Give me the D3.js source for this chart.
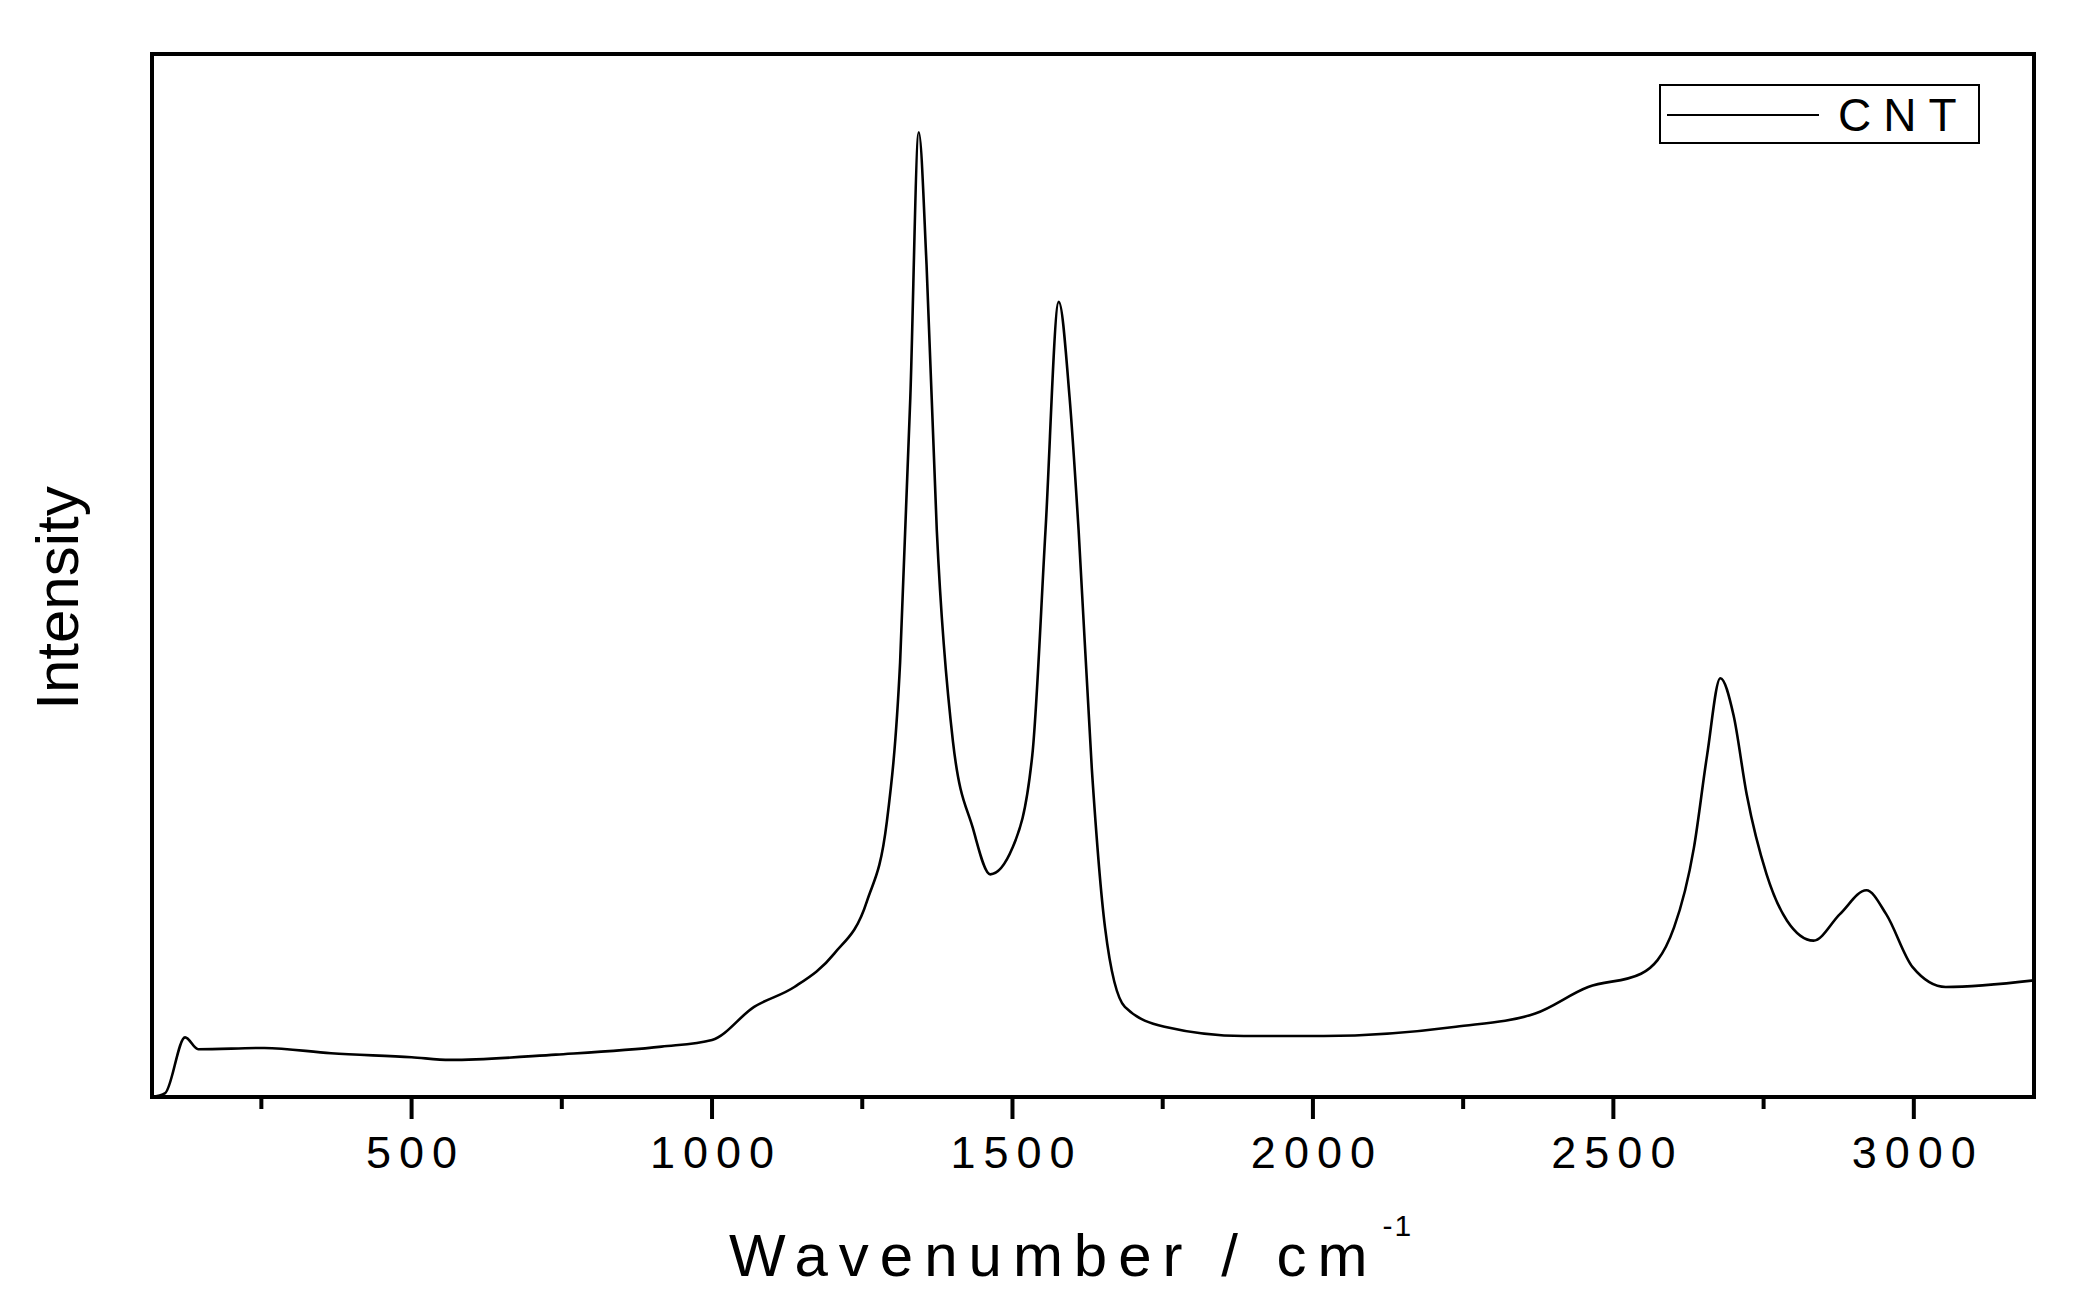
<!DOCTYPE html>
<html><head><meta charset="utf-8">
<script src="https://cdn.jsdelivr.net/npm/d3@7"></script>
<style>body{margin:0;background:#fff;font-family:"Liberation Sans",Arial,sans-serif}</style>
</head><body>
<script>
// Raman spectrum (wavenumber, intensity in arbitrary units)
var wavenumbers = [68,90,123,145,255,366,500,564,740,916,1000,1070,1137,1203,1258,1291,1313,1330,1344,1357,1374,1401,1434,1463,1500,1533,1555,1577,1595,1610,1632,1654,1687,1753,1885,2018,2238,2370,2458,2546,2601,2634,2656,2678,2700,2722,2755,2789,2833,2877,2921,2954,2998,3053,3200];
var intensity = [0,3,45,36,37,33,30,28,32,38,43,68,83,108,148,208,328,528,728,628,428,268,203,168,188,258,428,600,528,428,248,128,68,53,46,46,53,63,83,93,128,188,258,316,288,228,168,133,118,138,156,138,98,83,88];
var xTicks = [500,1000,1500,2000,2500,3000];
var seriesName = "CNT";

var W = 2073, H = 1290;
var m = {left: 152, right: 2034, top: 54, bottom: 1097};

var svg = d3.select("body").append("svg").attr("width", W).attr("height", H);

var x = d3.scaleLinear().domain([68, 3200]).range([m.left, m.right]);
var y = d3.scaleLinear().domain([0, 787]).range([m.bottom, m.top]);

var pts = wavenumbers.map(function (w, i) { return [w, intensity[i]]; });
svg.append("path")
  .attr("d", d3.line().x(function (d) { return x(d[0]); }).y(function (d) { return y(d[1]); }).curve(d3.curveMonotoneX)(pts))
  .attr("fill", "none").attr("stroke", "#000").attr("stroke-width", 2.6);

// ticks: major every 500, minor between
var minor = d3.range(250, 3200, 500);
svg.selectAll(".minor").data(minor).enter().append("line")
  .attr("x1", function (d) { return x(d); }).attr("x2", function (d) { return x(d); })
  .attr("y1", m.bottom).attr("y2", m.bottom + 12)
  .attr("stroke", "#000").attr("stroke-width", 4);
svg.selectAll(".major").data(xTicks).enter().append("line")
  .attr("x1", function (d) { return x(d); }).attr("x2", function (d) { return x(d); })
  .attr("y1", m.bottom).attr("y2", m.bottom + 22)
  .attr("stroke", "#000").attr("stroke-width", 4);
svg.selectAll(".tl").data(xTicks).enter().append("text")
  .attr("x", function (d) { return x(d) + 4; }).attr("y", 1168)
  .attr("text-anchor", "middle").attr("font-size", 45).attr("letter-spacing", 8)
  .text(function (d) { return d; });

// frame
svg.append("rect").attr("x", m.left).attr("y", m.top)
  .attr("width", m.right - m.left).attr("height", m.bottom - m.top)
  .attr("fill", "none").attr("stroke", "#000").attr("stroke-width", 4);

// axis titles
var xt = svg.append("text").attr("x", 729).attr("y", 1276).attr("font-size", 60).attr("letter-spacing", 11);
xt.append("tspan").text("Wavenumber / cm");
xt.append("tspan").attr("dx", 4).attr("dy", -40).attr("font-size", 30).attr("letter-spacing", 2).text("-1");
svg.append("text").attr("transform", "translate(78,598) rotate(-90)")
  .attr("text-anchor", "middle").attr("font-size", 60).text("Intensity");

// legend
svg.append("rect").attr("x", 1660).attr("y", 85).attr("width", 319).attr("height", 58)
  .attr("fill", "none").attr("stroke", "#000").attr("stroke-width", 2);
svg.append("line").attr("x1", 1667).attr("x2", 1819).attr("y1", 115).attr("y2", 115)
  .attr("stroke", "#000").attr("stroke-width", 2);
svg.append("text").attr("x", 1838).attr("y", 131).attr("font-size", 46).attr("letter-spacing", 12).text(seriesName);
</script>
</body></html>
